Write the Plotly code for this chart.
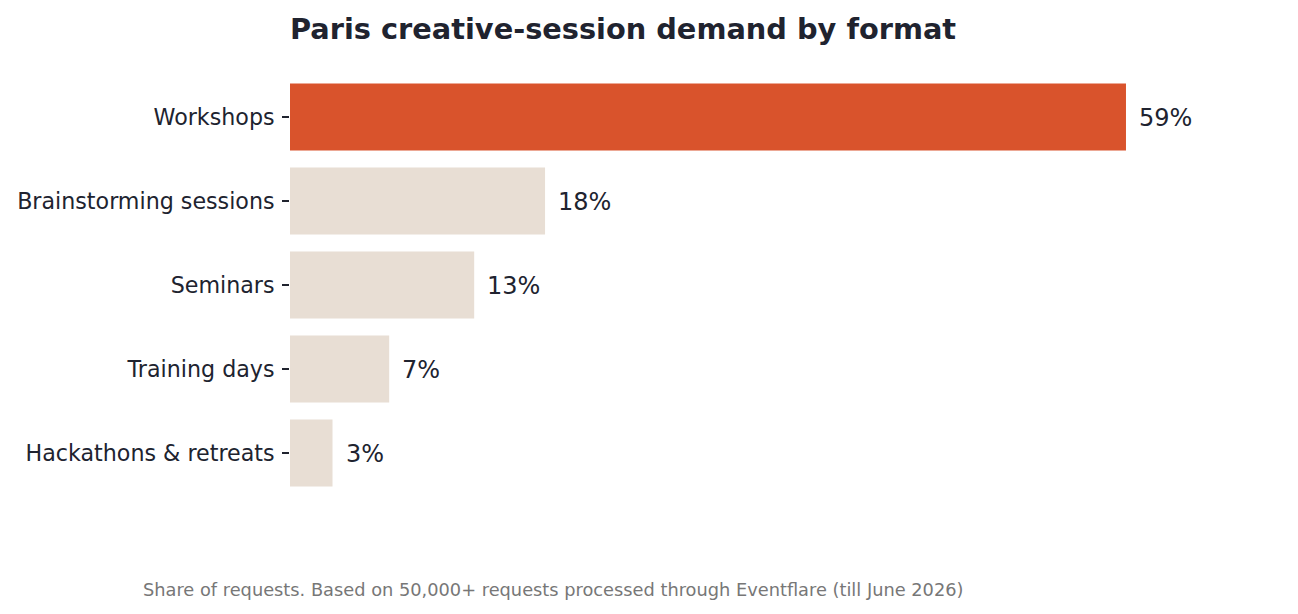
import plotly.graph_objects as go

# data
formats = ['Workshops', 'Brainstorming sessions', 'Seminars',
           'Training days', 'Hackathons & retreats']
share = [59, 18, 13, 7, 3]
highlight = 'Workshops'

title = 'Paris creative-session demand by format'
note = ('Share of requests. Based on 50,000+ requests processed through '
        'Eventflare (till June 2026)')

ORANGE = '#D9532C'
BEIGE = '#E8DED4'
INK = '#20232F'
FONT = 'DejaVu Sans'

colors = [ORANGE if f == highlight else BEIGE for f in formats]

fig = go.Figure(go.Bar(
    x=share, y=formats, orientation='h',
    marker=dict(color=colors, line=dict(width=0)),
    hoverinfo='skip',
))

# value labels just past the end of each bar
for f, v in zip(formats, share):
    fig.add_annotation(x=v, y=f, text=f'{v}%', showarrow=False,
                       xanchor='left', xshift=11, yshift=-1,
                       font=dict(family=FONT, size=24, color=INK))

fig.add_annotation(text=note, xref='paper', yref='paper',
                   x=-0.1618, y=-0.226, xanchor='left', yanchor='middle',
                   showarrow=False,
                   font=dict(family=FONT, size=17.8, color='#777777'))

fig.update_layout(
    width=1298, height=614,
    margin=dict(l=282, r=95, t=67, b=127),
    paper_bgcolor='white', plot_bgcolor='white',
    bargap=0.2,
    showlegend=False,
    title=dict(text=f'<b>{title}</b>', x=282 / 1298, xanchor='left',
               xref='container', yref='container', y=1 - 21 / 614,
               yanchor='middle',
               font=dict(family=FONT, size=28.8, color=INK)),
    font=dict(family=FONT, color=INK),
)
fig.update_xaxes(range=[0, 65], visible=False, showgrid=False, zeroline=False,
                 automargin=False)
fig.update_yaxes(autorange='reversed', showgrid=False, zeroline=False,
                 showline=False, ticks='outside', ticklen=7, tickwidth=1.5,
                 tickcolor=INK, ticklabelstandoff=3, automargin=False,
                 tickfont=dict(family=FONT, size=22.2, color=INK))

fig.write_html('out.html')
